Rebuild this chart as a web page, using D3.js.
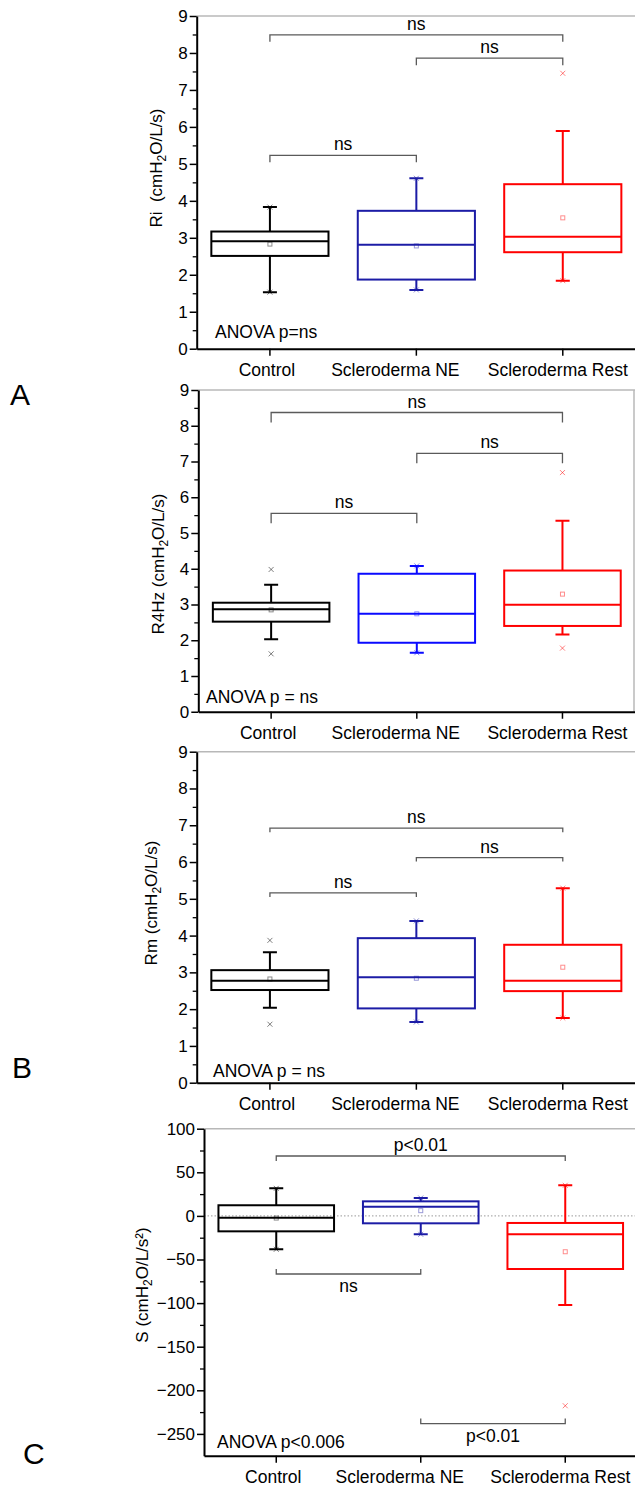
<!DOCTYPE html>
<html>
<head>
<meta charset="utf-8">
<script src="https://d3js.org/d3.v7.min.js"></script>
<style>
body { margin: 0; background: #fff; }
text { font-family: Arial, "Liberation Sans", sans-serif; }
</style>
</head>
<body>
<svg id="chart" width="635" height="1487"></svg>
<script>
var groups = ["Control", "Scleroderma NE", "Scleroderma Rest"];

// per group: [whisker low, q1, median, q3, whisker high, mean]
var riBox = [[1.53, 2.51, 2.91, 3.17, 3.83, 2.83], [1.59, 1.87, 2.81, 3.73, 4.61, 2.78], [1.84, 2.61, 3.03, 4.45, 5.89, 3.54]];
var riExt = [[1.53, 3.83], [1.59, 4.61], [1.84, 7.45]];   // min / max marks
var riPairs = [[0, 2, 8.49, "ns", 1], [1, 2, 7.86, "ns", 1], [0, 1, 5.23, "ns", 1]];

var r4Box = [[2.03, 2.52, 2.87, 3.05, 3.55, 2.85], [1.65, 1.93, 2.74, 3.86, 4.08, 2.74], [2.16, 2.40, 2.99, 3.95, 5.34, 3.29]];
var r4Ext = [[1.62, 3.98], [1.65, 4.08], [1.78, 6.69]];
var r4Pairs = [[0, 2, 8.37, "ns", 1], [1, 2, 7.23, "ns", 1], [0, 1, 5.55, "ns", 1]];

var rmBox = [[2.04, 2.52, 2.77, 3.06, 3.55, 2.82], [1.65, 2.02, 2.87, 3.93, 4.40, 2.84], [1.76, 2.49, 2.77, 3.75, 5.29, 3.14]];
var rmExt = [[1.59, 3.87], [1.65, 4.40], [1.76, 5.29]];
var rmPairs = [[0, 2, 6.92, "ns", 1], [1, 2, 6.12, "ns", 1], [0, 1, 5.16, "ns", 1]];

var sBox = [[-38.3, -17.7, -2.1, 12.2, 31.6, -2.5], [-21.1, -8.5, 10.6, 16.7, 20.5, 6.0], [-102.2, -60.9, -21.1, -8.1, 35.1, -41.1]];
var sExt = [[-38.3, 31.6], [-21.1, 20.5], [-217.7, 35.1]];
var sPairs = [[0, 2, 68.7, "p<0.01", 1], [0, 1, -66.6, "ns", -1], [1, 2, -238.2, "p<0.01", -1]];

var rTicks = d3.range(0, 10, 1);
var sTicks = d3.range(-250, 101, 50);

var panels = [
    {box: riBox, ext: riExt, pairs: riPairs, domain: [0, 9], ticks: rTicks, minor: d3.range(0.5, 9, 1),
     x0: 196.7, x1: 636, yTop: 16, yBot: 348.7, blue: "#1c1ca6", leg: 7,
     label: ["Ri\u00a0\u00a0(cmH", "2", "O/L/s)"], lx: 162, ly: 168,
     anova: "ANOVA p=ns", ax: 75 + 140, ay: 338},
    {box: r4Box, ext: r4Ext, pairs: r4Pairs, domain: [0, 9], ticks: rTicks, minor: d3.range(0.5, 9, 1),
     x0: 198.3, x1: 635.3, yTop: 390, yBot: 711.75, blue: "#0a0aff", leg: 10, frame: true,
     label: ["R4Hz (cmH", "2", "O/L/s)"], lx: 164, ly: 564,
     anova: "ANOVA p = ns", ax: 206, ay: 703},
    {box: rmBox, ext: rmExt, pairs: rmPairs, domain: [0, 9], ticks: rTicks, minor: d3.range(0.5, 9, 1),
     x0: 196.7, x1: 636, yTop: 751.7, yBot: 1082.7, blue: "#1c1ca6", leg: 4,
     label: ["Rm (cmH", "2", "O/L/s)"], lx: 157, ly: 903,
     anova: "ANOVA p = ns", ax: 213, ay: 1077},
    {box: sBox, ext: sExt, pairs: sPairs, domain: [-275, 100], ticks: sTicks, minor: d3.range(-225, 100, 50),
     x0: 204, x1: 637.5, yTop: 1128.7, yBot: 1455.7, blue: "#1c1ca6", leg: 5, zero: true,
     label: ["S (cmH", "2", "O/L/s\u00b2)"], lx: 148, ly: 1285,
     anova: "ANOVA p<0.006", ax: 217, ay: 1448}
];

var letters = [["A", 10, 405], ["B", 12, 1078], ["C", 23, 1464]];
var labelShift = [-3, -21, -5];

var svg = d3.select("#chart");

panels.forEach(drawPanel);

letters.forEach(function (d) {
    svg.append("text").attr("x", d[1]).attr("y", d[2])
        .attr("font-size", 30).text(d[0]);
});

function drawPanel(p) {
    var g = svg.append("g");
    var x = d3.scaleBand().domain(groups).range([p.x0, p.x1]).paddingInner(0.2).paddingOuter(0.1);
    var y = d3.scaleLinear().domain(p.domain).range([p.yBot, p.yTop]);
    var cx = function (i) { return x(groups[i]) + x.bandwidth() / 2; };
    var colors = ["#000000", p.blue, "#ff0000"];

    // light frame on top (and right for one panel)
    g.append("line").attr("x1", p.x0).attr("x2", 635).attr("y1", p.yTop).attr("y2", p.yTop)
        .attr("stroke", "#b8b8b8").attr("stroke-width", 1.5);
    if (p.frame) {
        g.append("line").attr("x1", 634).attr("x2", 634).attr("y1", p.yTop).attr("y2", p.yBot)
            .attr("stroke", "#b8b8b8").attr("stroke-width", 1.5);
    }
    if (p.zero) {
        g.append("line").attr("x1", p.x0).attr("x2", 635).attr("y1", y(0)).attr("y2", y(0))
            .attr("stroke", "#999").attr("stroke-width", 1).attr("stroke-dasharray", "1.5,2");
    }

    // y axis
    var ya = g.append("g").attr("transform", "translate(" + p.x0 + ",0)")
        .call(d3.axisLeft(y).tickValues(p.ticks).tickSize(7).tickSizeOuter(0).tickPadding(2));
    ya.select(".domain").attr("stroke-width", 2);
    ya.selectAll(".tick line").attr("stroke-width", 1.5);
    ya.selectAll("text").attr("font-size", 17).attr("font-family", "Arial, 'Liberation Sans', sans-serif");
    g.append("g").attr("transform", "translate(" + p.x0 + ",0)")
        .call(d3.axisLeft(y).tickValues(p.minor).tickSize(4).tickFormat(""))
        .call(function (s) { s.select(".domain").remove(); })
        .selectAll("line").attr("stroke-width", 1.3);

    // x axis
    var xa = g.append("g").attr("transform", "translate(0," + p.yBot + ")")
        .call(d3.axisBottom(x).tickSize(7).tickSizeOuter(0).tickPadding(8));
    xa.select(".domain").attr("stroke-width", 2);
    xa.selectAll(".tick line").attr("stroke-width", 1.5);
    xa.selectAll("text").attr("font-size", 17.5).attr("font-family", "Arial, 'Liberation Sans', sans-serif")
        .attr("dx", function (d, i) { return labelShift[i]; });

    // boxes
    p.box.forEach(function (b, i) {
        var c = colors[i], xc = cx(i), bx = x(groups[i]), bw = x.bandwidth();
        g.append("path")
            .attr("d", "M" + xc + "," + y(b[0]) + "V" + y(b[1]) + "M" + xc + "," + y(b[3]) + "V" + y(b[4]) +
                "M" + (xc - 7) + "," + y(b[0]) + "H" + (xc + 7) + "M" + (xc - 7) + "," + y(b[4]) + "H" + (xc + 7))
            .attr("stroke", c).attr("stroke-width", 2).attr("fill", "none");
        g.append("rect").attr("x", bx).attr("y", y(b[3])).attr("width", bw).attr("height", y(b[1]) - y(b[3]))
            .attr("fill", "none").attr("stroke", c).attr("stroke-width", 2);
        g.append("line").attr("x1", bx).attr("x2", bx + bw).attr("y1", y(b[2])).attr("y2", y(b[2]))
            .attr("stroke", c).attr("stroke-width", 2);
        g.append("rect").attr("x", xc - 2).attr("y", y(b[5]) - 2).attr("width", 4).attr("height", 4)
            .attr("fill", "none").attr("stroke", c).attr("stroke-opacity", 0.45).attr("stroke-width", 1);
        p.ext[i].forEach(function (v) {
            var yy = y(v);
            g.append("path").attr("d", "M" + (xc - 2.5) + "," + (yy - 2.5) + "L" + (xc + 2.5) + "," + (yy + 2.5) +
                "M" + (xc - 2.5) + "," + (yy + 2.5) + "L" + (xc + 2.5) + "," + (yy - 2.5))
                .attr("stroke", c).attr("stroke-opacity", 0.5).attr("stroke-width", 1);
        });
    });

    // significance brackets
    p.pairs.forEach(function (d) {
        var xa1 = cx(d[0]), xb1 = cx(d[1]), yy = y(d[2]), leg = p.leg * d[4];
        g.append("path").attr("d", "M" + xa1 + "," + (yy + leg) + "V" + yy + "H" + xb1 + "V" + (yy + leg))
            .attr("fill", "none").attr("stroke", "#5a5a5a").attr("stroke-width", 1.3);
        g.append("text").attr("x", (xa1 + xb1) / 2).attr("y", d[4] > 0 ? yy - 5 : yy + 18)
            .attr("text-anchor", "middle").attr("font-size", 17.5).text(d[3]);
    });

    g.append("text").attr("x", p.ax).attr("y", p.ay).attr("font-size", 17.5).text(p.anova);

    // y label
    var t = g.append("text").attr("transform", "translate(" + p.lx + "," + p.ly + ") rotate(-90)")
        .attr("text-anchor", "middle").attr("font-size", 17);
    t.append("tspan").text(p.label[0]);
    t.append("tspan").attr("dy", 4).attr("font-size", 12).text(p.label[1]);
    t.append("tspan").attr("dy", -4).text(p.label[2]);
}
</script>
</body>
</html>
